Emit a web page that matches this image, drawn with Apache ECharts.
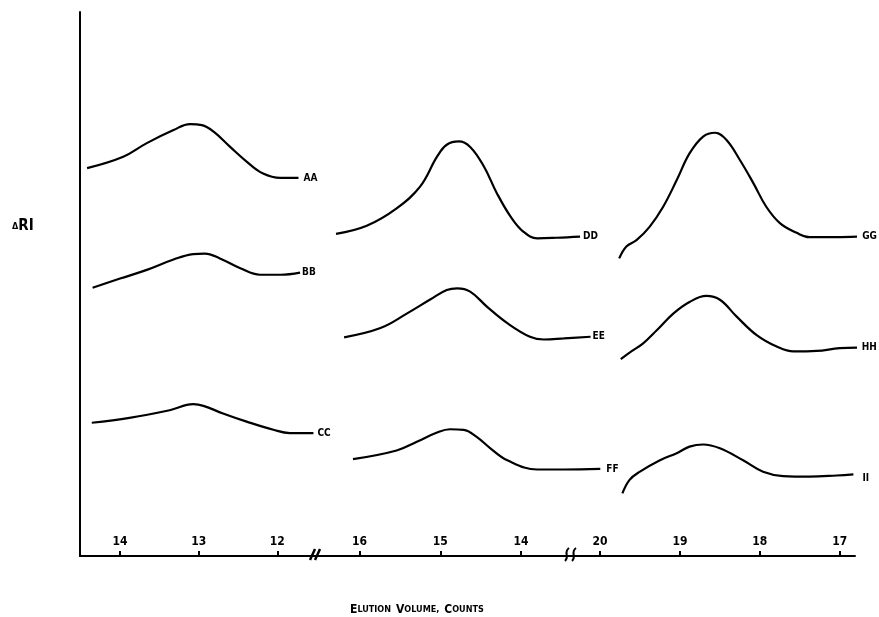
<!DOCTYPE html>
<html>
<head>
<meta charset="utf-8">
<title>Elution curves</title>
<script src="https://cdn.jsdelivr.net/npm/echarts@6/dist/echarts.min.js"></script>
<style>
  html, body { margin: 0; padding: 0; background: #fff; }
  #main { width: 879px; height: 617px; }
</style>
</head>
<body>
<div id="main"></div>
<script>
// tick values of the three segments of the broken elution axis
var ticks1 = [14, 13, 12];
var ticks2 = [16, 15, 14];
var ticks3 = [20, 19, 18, 17];

// [elution volume (counts), delta RI (arbitrary units)]
var AA = [[14.42,71.3],[13.96,73.4],[13.66,75.9],[13.32,78.3],[13.11,79.4],[12.96,79.2],[12.81,78.0],[12.60,75.2],[12.39,72.5],[12.18,70.3],[11.96,69.5],[11.73,69.5]];
var BB = [[14.35,49.3],[14.00,51.0],[13.66,52.6],[13.32,54.5],[13.07,55.5],[12.92,55.6],[12.73,54.7],[12.47,52.9],[12.22,51.7],[11.96,51.7],[11.71,52.1]];
var CC = [[14.36,24.5],[13.88,25.4],[13.37,26.8],[13.07,27.9],[12.94,27.6],[12.69,26.2],[12.39,24.7],[12.05,23.2],[11.84,22.6],[11.54,22.6]];

var DD = [[16.29,59.2],[15.91,60.7],[15.54,63.9],[15.25,67.9],[15.04,73.4],[14.92,75.6],[14.77,76.2],[14.63,75.2],[14.46,71.6],[14.30,66.7],[14.13,62.4],[13.97,59.6],[13.80,58.4],[13.56,58.5],[13.27,58.7]];
var EE = [[16.19,40.2],[15.74,41.9],[15.41,44.6],[15.12,47.2],[14.92,48.9],[14.79,49.2],[14.63,48.6],[14.42,45.8],[14.17,42.8],[13.89,40.3],[13.72,39.8],[13.47,40.0],[13.14,40.3]];
var FF = [[16.08,17.8],[15.54,19.4],[15.29,21.0],[15.04,22.7],[14.88,23.3],[14.71,23.2],[14.55,21.9],[14.38,19.8],[14.17,17.6],[13.80,15.9],[13.47,15.9],[13.02,16.0]];

var GG = [[19.76,54.7],[19.67,56.9],[19.54,58.1],[19.38,60.5],[19.21,64.2],[19.04,69.1],[18.88,74.0],[18.71,77.1],[18.56,77.8],[18.42,76.5],[18.25,72.8],[18.08,68.5],[17.92,64.2],[17.75,61.2],[17.54,59.4],[17.38,58.6],[17.04,58.6],[16.77,58.7]];
var HH = [[19.74,36.2],[19.63,37.4],[19.46,39.1],[19.29,41.5],[19.08,44.6],[18.88,46.7],[18.67,47.8],[18.50,47.1],[18.29,44.0],[18.04,40.6],[17.79,38.5],[17.58,37.6],[17.29,37.7],[17.00,38.2],[16.75,38.3]];
var II = [[19.72,11.5],[19.63,14.0],[19.50,15.5],[19.25,17.6],[19.04,18.9],[18.88,20.1],[18.71,20.5],[18.50,19.8],[18.21,17.6],[17.96,15.5],[17.71,14.7],[17.38,14.6],[17.04,14.8],[16.83,15.0]];

var FONT = "'DejaVu Sans Condensed', 'DejaVu Sans', sans-serif";

var myChart = echarts.init(document.getElementById('main'));

function xAx(idx, min, max, ticks) {
    return {
        type: 'value', gridIndex: idx, inverse: true, min: min, max: max,
        axisLine: { show: true, lineStyle: { color: '#000', width: 2 } },
        axisTick: { show: true, inside: true, length: 5, customValues: ticks, lineStyle: { color: '#000', width: 2 } },
        axisLabel: { show: true, inside: true, margin: 8, customValues: ticks, color: '#000',
                     fontFamily: FONT, fontWeight: 'bold', fontSize: 12 },
        splitLine: { show: false }
    };
}
function yAx(idx, showLine) {
    return {
        type: 'value', gridIndex: idx, min: 0, max: 100,
        axisLine: { show: showLine, lineStyle: { color: '#000', width: 2 } },
        axisTick: { show: false }, axisLabel: { show: false }, splitLine: { show: false }
    };
}
// end labels sit just right of the last point (axes are inverted)
function curve(name, data, idx, dx, dy) {
    return {
        name: name, type: 'line', data: data, xAxisIndex: idx, yAxisIndex: idx,
        smooth: 0.4, showSymbol: false, clip: false,
        lineStyle: { color: '#000', width: 2.2 },
        endLabel: { show: true, formatter: '{a}', distance: 0, align: 'left', verticalAlign: 'middle',
                    offset: [dx, dy || 0],
                    color: '#000', fontFamily: FONT, fontWeight: 'bold', fontSize: 10 }
    };
}

var option = {
    backgroundColor: '#fff',
    animation: false,
    title: [{
        left: 7, top: 214,
        text: '{d|\u0394}{r|RI}',
        textStyle: { rich: {
            d: { fontFamily: FONT, fontWeight: 'bold', fontSize: 9, color: '#000' },
            r: { fontFamily: FONT, fontWeight: 'bold', fontSize: 15, color: '#000' }
        } }
    }, {
        left: 345, top: 596,
        text: '{b|E}{s|LUTION} {b|V}{s|OLUME,} {b|C}{s|OUNTS}',
        textStyle: { rich: {
            b: { fontFamily: FONT, fontWeight: 'bold', fontSize: 12, color: '#000' },
            s: { fontFamily: FONT, fontWeight: 'bold', fontSize: 9, color: '#000' }
        } }
    }],
    grid: [
        { left: 80, top: 12, width: 235, height: 544 },
        { left: 315, top: 12, width: 295, height: 544 },
        { left: 600, top: 12, width: 255, height: 544 }
    ],
    xAxis: [
        xAx(0, 11.52, 14.51, ticks1),
        xAx(1, 12.9, 16.55, ticks2),
        xAx(2, 16.81, 20, ticks3)
    ],
    yAxis: [yAx(0, true), yAx(1, false), yAx(2, false)],
    series: [
        curve('AA', AA, 0, 5), curve('BB', BB, 0, 2), curve('CC', CC, 0, 4),
        curve('DD', DD, 1, 3), curve('EE', EE, 1, 2), curve('FF', FF, 1, 6),
        curve('GG', GG, 2, 4), curve('HH', HH, 2, 2), curve('II', II, 2, 9, 4)
    ],
    graphic: [
        // axis break marks
        { type: 'line', shape: { x1: 310, y1: 560, x2: 315, y2: 549 }, style: { stroke: '#000', lineWidth: 2.5 } },
        { type: 'line', shape: { x1: 315, y1: 560, x2: 320, y2: 549 }, style: { stroke: '#000', lineWidth: 2.5 } },
        { type: 'bezierCurve', shape: { x1: 565, y1: 561, cpx1: 570, cpy1: 557, cpx2: 563, cpy2: 552, x2: 569, y2: 548 }, style: { stroke: '#000', lineWidth: 2, fill: null } },
        { type: 'bezierCurve', shape: { x1: 572, y1: 561, cpx1: 577, cpy1: 557, cpx2: 570, cpy2: 552, x2: 576, y2: 548 }, style: { stroke: '#000', lineWidth: 2, fill: null } }
    ]
};
myChart.setOption(option);
</script>
</body>
</html>
